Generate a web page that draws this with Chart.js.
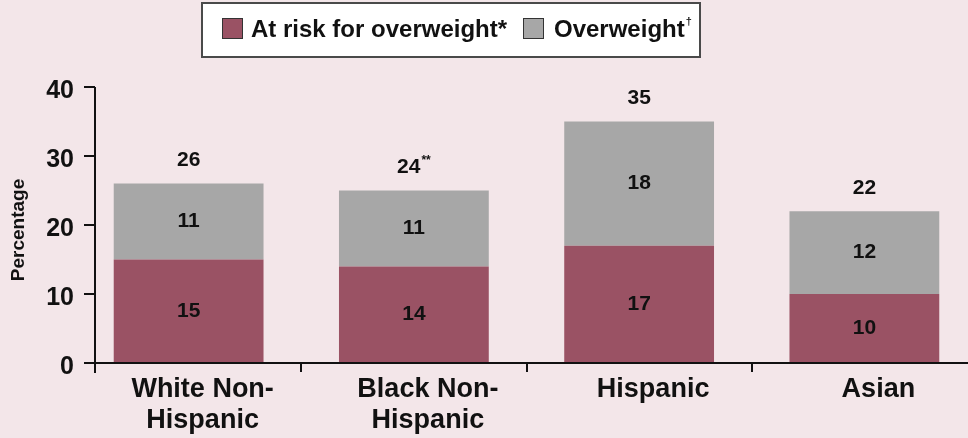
<!DOCTYPE html>
<html>
<head>
<meta charset="utf-8">
<script src="https://cdn.jsdelivr.net/npm/chart.js@4"></script>
<style>
  html, body { margin: 0; padding: 0; background: #f3e6e9; overflow: hidden; }
  #wrap { width: 968px; height: 438px; position: relative; overflow: hidden; }
  #c { display: block; }
</style>
</head>
<body>
<div id="wrap"><canvas id="c" width="977" height="438"></canvas></div>
<script>
// Prevalence of overweight by race/ethnicity (percent)
const categories = [['White Non-', 'Hispanic'], ['Black Non-', 'Hispanic'], ['Hispanic'], ['Asian']];
const atRiskValues = [15, 14, 17, 10];
const overweightValues = [11, 11, 18, 12];
const totalValues = [26, 24, 35, 22];
const totalNotes = ['', '**', '', ''];
const yTickValues = [0, 10, 20, 30, 40];
const seriesNames = ['At risk for overweight*', 'Overweight'];
const seriesNotes = ['', '\u2020'];

const MAROON = '#9a5264';
const GRAY = '#a7a7a7';
const INK = '#111111';
const FONT = '"Liberation Sans", Arial, Helvetica, sans-serif';

function drawWithNote(ctx, text, note, cx, cy, size, noteSize, rise, align) {
  ctx.font = `bold ${size}px ${FONT}`;
  const w1 = ctx.measureText(text).width;
  ctx.font = `bold ${noteSize}px ${FONT}`;
  const w2 = note ? ctx.measureText(note).width + 1 : 0;
  const left = align === 'left' ? cx : cx - (w1 + w2) / 2;
  ctx.textAlign = 'left';
  ctx.textBaseline = 'middle';
  ctx.font = `bold ${size}px ${FONT}`;
  ctx.fillText(text, left, cy);
  if (note) {
    ctx.font = `bold ${noteSize}px ${FONT}`;
    ctx.fillText(note, left + w1 + 1, cy - rise);
  }
}

const decorations = {
  id: 'decorations',
  afterDraw(chart) {
    const { ctx, scales: { x, y }, chartArea } = chart;
    ctx.save();

    // axes
    const axisX = chartArea.left + 19;
    const y0 = y.getPixelForValue(0);
    ctx.strokeStyle = INK;
    ctx.lineWidth = 2;
    ctx.beginPath();
    ctx.moveTo(axisX, y.getPixelForValue(yTickValues[yTickValues.length - 1]));
    ctx.lineTo(axisX, y0 + 10);
    ctx.stroke();
    yTickValues.forEach(v => {
      const py = y.getPixelForValue(v);
      ctx.beginPath();
      ctx.moveTo(axisX - 11, py);
      ctx.lineTo(axisX, py);
      ctx.stroke();
    });
    ctx.beginPath();
    ctx.moveTo(axisX - 11, y0);
    ctx.lineTo(chart.width, y0);
    ctx.stroke();
    for (let i = 0; i < categories.length - 1; i++) {
      const bx = Math.round((x.getPixelForValue(i) + x.getPixelForValue(i + 1)) / 2);
      ctx.beginPath();
      ctx.moveTo(bx, y0);
      ctx.lineTo(bx, y0 + 9);
      ctx.stroke();
    }

    // segment values
    ctx.fillStyle = INK;
    chart.data.datasets.forEach((ds, di) => {
      const meta = chart.getDatasetMeta(di);
      meta.data.forEach((bar, i) => {
        const mid = (bar.y + bar.base) / 2;
        drawWithNote(ctx, String(ds.data[i]), '', bar.x, mid, 21, 11, 0);
      });
    });

    // stack totals
    const top = chart.getDatasetMeta(1).data;
    totalValues.forEach((t, i) => {
      drawWithNote(ctx, String(t), totalNotes[i], top[i].x, top[i].y - 23, 21, 12, 7);
    });

    // y axis title
    ctx.save();
    ctx.translate(19, 230);
    ctx.rotate(-Math.PI / 2);
    ctx.textAlign = 'center';
    ctx.textBaseline = 'middle';
    ctx.font = `bold 19px ${FONT}`;
    ctx.fillText('Percentage', 0, 0);
    ctx.restore();

    // legend
    ctx.fillStyle = '#ffffff';
    ctx.fillRect(202, 3, 498, 54);
    ctx.strokeStyle = '#4a4a4a';
    ctx.lineWidth = 2;
    ctx.strokeRect(202, 3, 498, 54);
    const legendItems = [
      { color: MAROON, sx: 222, tx: 251 },
      { color: GRAY, sx: 523, tx: 554 }
    ];
    legendItems.forEach((it, k) => {
      ctx.fillStyle = it.color;
      ctx.fillRect(it.sx, 18, 21, 21);
      ctx.strokeStyle = '#333333';
      ctx.lineWidth = 1;
      ctx.strokeRect(it.sx + 0.5, 18.5, 20, 20);
      ctx.fillStyle = INK;
      drawWithNote(ctx, seriesNames[k], seriesNotes[k], it.tx, 30, 24, 11, 8, 'left');
    });

    ctx.restore();
  }
};

new Chart(document.getElementById('c'), {
  type: 'bar',
  data: {
    labels: categories,
    datasets: [
      { label: seriesNames[0], data: atRiskValues, backgroundColor: MAROON, borderWidth: 0 },
      { label: seriesNames[1], data: overweightValues, backgroundColor: GRAY, borderWidth: 0 }
    ]
  },
  options: {
    responsive: false,
    animation: false,
    devicePixelRatio: 1,
    layout: { padding: { top: 87, right: 0, bottom: 0, left: 0 } },
    datasets: { bar: { barPercentage: 0.665, categoryPercentage: 1 } },
    plugins: { legend: { display: false }, tooltip: { enabled: false } },
    scales: {
      x: {
        stacked: true,
        grid: { display: false, drawTicks: false },
        border: { display: false },
        ticks: {
          color: INK,
          font: { family: FONT, size: 27, weight: 'bold', lineHeight: 1.15 },
          padding: 11,
          labelOffset: 14,
          maxRotation: 0,
          autoSkip: false
        },
        afterFit(scale) { scale.height = 75; }
      },
      y: {
        stacked: true,
        min: 0,
        max: 40,
        grid: { display: false, drawTicks: false },
        border: { display: false },
        afterBuildTicks(scale) { scale.ticks = yTickValues.map(v => ({ value: v })); },
        ticks: {
          color: INK,
          font: { family: FONT, size: 25, weight: 'bold' },
          padding: 2,
          labelOffset: 4
        },
        afterFit(scale) { scale.width = 76; }
      }
    }
  },
  plugins: [decorations]
});
</script>
</body>
</html>
